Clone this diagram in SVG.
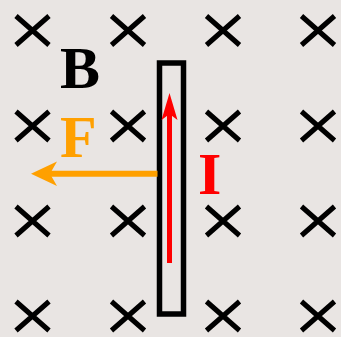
<svg xmlns="http://www.w3.org/2000/svg" width="341" height="337" viewBox="0 0 341 337">
<style>
.x{stroke:#000;stroke-width:5;fill:none}
.lbl{font-family:"Liberation Serif","Times New Roman",serif;font-weight:bold;font-size:60px}
</style>
<defs>
<path id="cross" class="x" d="M-16.5,-14.5L16.5,14.5M16.5,-14.5L-16.5,14.5"/>
</defs>
<rect width="341" height="337" fill="#e9e5e3"/>
<g id="field">
<use href="#cross" x="32.5" y="30.5"/><use href="#cross" x="128" y="30.5"/><use href="#cross" x="223" y="30.5"/><use href="#cross" x="318" y="30.5"/>
<use href="#cross" x="32.5" y="126"/><use href="#cross" x="128" y="126"/><use href="#cross" x="223" y="126"/><use href="#cross" x="318" y="126"/>
<use href="#cross" x="32.5" y="221"/><use href="#cross" x="128" y="221"/><use href="#cross" x="223" y="221"/><use href="#cross" x="318" y="221"/>
<use href="#cross" x="32.5" y="316"/><use href="#cross" x="128" y="316"/><use href="#cross" x="223" y="316"/><use href="#cross" x="318" y="316"/>
</g>
<g id="wire">
<rect x="159.5" y="63" width="24" height="251" fill="none" stroke="#000" stroke-width="5.5"/>
</g>
<g id="connectors">
<line x1="169.5" y1="263" x2="169.5" y2="112" stroke="#ff0000" stroke-width="5"/>
<path d="M169.5,93L177.5,120L169.5,114L161.5,120Z" fill="#ff0000"/>
<line x1="157.5" y1="173.7" x2="50" y2="173.7" stroke="#ffa000" stroke-width="6"/>
<path d="M31,173.7L57,161.5L50,173.7L57,186Z" fill="#ffa000"/>
</g>
<g id="labelB"><text class="lbl" x="60" y="88" fill="#000">B</text></g>
<g id="labelF"><text class="lbl" x="60" y="157" fill="#ffa000">F</text></g>
<g id="labelI"><text class="lbl" x="198" y="194" fill="#ff0000">I</text></g>
</svg>
